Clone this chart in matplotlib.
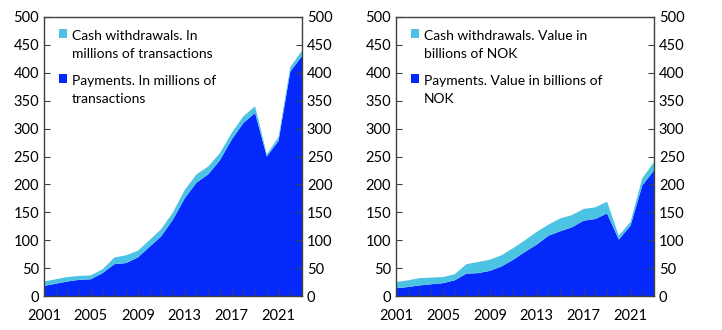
import numpy as np
import matplotlib.pyplot as plt
from matplotlib.patches import Rectangle
from matplotlib.legend_handler import HandlerPatch

years = np.arange(2001, 2024)

# venstre panel: antall transaksjoner (millioner)
pay_count = [18, 22, 26, 29, 30, 41, 57, 59, 69, 88, 107, 137, 175, 203, 218,
             243, 280, 310, 328, 250, 278, 402, 430]
total_count = [26, 30, 34, 36, 37, 48, 69, 73, 81, 100, 120, 150, 190, 218, 232,
               256, 292, 322, 340, 254, 285, 410, 440]

# høyre panel: verdi (mrd. NOK)
pay_value = [14, 16, 19, 21, 23, 28, 40, 41, 45, 53, 65, 79, 92, 108, 116,
             123, 135, 138, 148, 101, 126, 198, 225]
total_value = [25, 28, 32, 33, 34, 39, 57, 61, 65, 73, 86, 100, 115, 128, 139,
               145, 156, 159, 169, 108, 133, 211, 240]

cash_count = np.array(total_count) - np.array(pay_count)
cash_value = np.array(total_value) - np.array(pay_value)

labels_left = ["Cash withdrawals. In\nmillions of transactions",
               "Payments. In millions of\ntransactions"]
labels_right = ["Cash withdrawals. Value in\nbillions of NOK",
                "Payments. Value in billions of\nNOK"]

dark = '#0529fb'
light = '#4dc3e4'

plt.rcParams['font.family'] = ['Lato', 'DejaVu Sans']
plt.rcParams['font.size'] = 10.5


# firkant på høyde med første tekstlinje
def top_square(legend, orig_handle, xdescent, ydescent, width, height, fontsize):
    return Rectangle((-xdescent, -ydescent + 0.8 * fontsize), width, height)


fig = plt.figure(figsize=(7.22, 3.3), dpi=100)
ax1 = fig.add_axes([0.0609, 0.103, 0.3574, 0.8455])
ax2 = fig.add_axes([0.5485, 0.103, 0.3573, 0.8455])

for ax, pay, cash, labs in [(ax1, pay_count, cash_count, labels_left),
                            (ax2, pay_value, cash_value, labels_right)]:
    ax.stackplot(years, pay, cash, colors=[dark, light], linewidth=0)
    ax.set_xlim(2001, 2023)
    ax.set_ylim(0, 500)
    ax.set_yticks(range(0, 501, 50))
    ax.set_xticks(range(2001, 2022, 4))
    ax.set_xticks(years, minor=True)
    ax.tick_params(axis='x', which='both', direction='in', length=4, pad=9,
                   color='#404040')
    ax.tick_params(axis='y', direction='in', length=4, left=True, right=True,
                   labelleft=True, labelright=True, color='#404040')
    for s in ax.spines.values():
        s.set_color('#404040')
        s.set_linewidth(1)
    handles = [Rectangle((0, 0), 1, 1, facecolor=light, edgecolor='none'),
               Rectangle((0, 0), 1, 1, facecolor=dark, edgecolor='none')]
    leg = ax.legend(handles, labs, loc='upper left', frameon=False,
                    handlelength=0.6, handleheight=0.6, handletextpad=0.35,
                    labelspacing=1.1, fontsize=10, borderaxespad=0,
                    bbox_to_anchor=(0.035, 0.975),
                    handler_map={Rectangle: HandlerPatch(patch_func=top_square)})
    for t in leg.get_texts():
        t.set_linespacing(1.6)

fig.savefig('out.png', dpi=100)
